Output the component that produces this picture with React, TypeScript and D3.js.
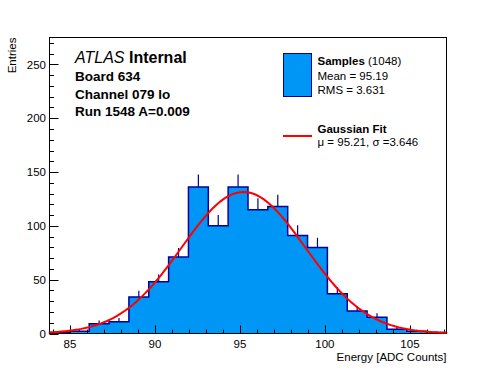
import { useEffect, useRef } from "react";
import * as d3 from "d3";

// Histogram: 20 equal bins spanning the axis range
const xRange = [83.8, 107.15];
const binCounts = [1, 2, 9, 11, 34, 48, 71, 136, 100, 136, 115, 118, 91, 80, 37, 21, 15, 4, 2, 1];

const fitConstant = 131.5;
const fitMean = 95.21;
const fitSigma = 3.646;

const xTicks = [85, 90, 95, 100, 105];
const yTicks = [0, 50, 100, 150, 200, 250];

const infoLines = ["Board 634", "Channel 079 lo", "Run 1548 A=0.009"];

const FONT = "'Liberation Sans', Arial, Helvetica, sans-serif";
const FILL = "#0096f5";
const EDGE = "#000099";

const HistChart = () => {
  const ref = useRef(null);

  useEffect(() => {
    if (!ref.current) return;
    d3.select(ref.current).selectAll("*").remove();

    const W = 496;
    const H = 372;
    const left = 49.5;
    const right = 446.5;
    const top = 37.5;
    const bottom = 333.5;

    const svg = d3
      .select(ref.current)
      .append("svg")
      .attr("width", W)
      .attr("height", H)
      .style("position", "absolute")
      .style("left", "0px")
      .style("top", "0px")
      .style("font-family", FONT);

    svg.append("rect").attr("width", W).attr("height", H).attr("fill", "white");

    const x = d3.scaleLinear().domain(xRange).range([left, right]);
    const y = d3.scaleLinear().domain([0, 275]).range([bottom, top]);

    const nb = binCounts.length;
    const bw = (xRange[1] - xRange[0]) / nb;
    const bins = binCounts.map((c, i) => ({
      x0: xRange[0] + i * bw,
      x1: xRange[0] + (i + 1) * bw,
      c,
    }));

    // step points
    const pts = [];
    bins.forEach((b) => {
      pts.push([b.x0, b.c]);
      pts.push([b.x1, b.c]);
    });

    const area = d3
      .area()
      .x((d) => x(d[0]))
      .y0(y(0))
      .y1((d) => y(d[1]));

    svg.append("path").attr("d", area(pts)).attr("fill", FILL);

    const line = d3
      .line()
      .x((d) => x(d[0]))
      .y((d) => y(d[1]));

    svg
      .append("path")
      .attr("d", line([[xRange[0], 0], ...pts, [xRange[1], 0]]))
      .attr("fill", "none")
      .attr("stroke", EDGE)
      .attr("stroke-width", 1.5);

    // error bars (upper halves visible above the fill)
    svg
      .selectAll(".err")
      .data(bins.filter((b) => b.c > 0))
      .enter()
      .append("line")
      .attr("x1", (d) => x((d.x0 + d.x1) / 2))
      .attr("x2", (d) => x((d.x0 + d.x1) / 2))
      .attr("y1", (d) => y(d.c))
      .attr("y2", (d) => y(d.c + Math.sqrt(d.c)))
      .attr("stroke", EDGE)
      .attr("stroke-width", 1.2);

    // frame
    svg
      .append("rect")
      .attr("x", left)
      .attr("y", top)
      .attr("width", right - left)
      .attr("height", bottom - top)
      .attr("fill", "none")
      .attr("stroke", "black")
      .attr("stroke-width", 1);

    // x ticks (inward)
    const xMinor = d3.range(84, 108, 1);
    svg
      .selectAll(".xt")
      .data(xMinor)
      .enter()
      .append("line")
      .attr("x1", (d) => Math.round(x(d)) + 0.5)
      .attr("x2", (d) => Math.round(x(d)) + 0.5)
      .attr("y1", bottom)
      .attr("y2", (d) => bottom - (d % 5 === 0 ? 8 : 4))
      .attr("stroke", "black");

    svg
      .selectAll(".xl")
      .data(xTicks)
      .enter()
      .append("text")
      .attr("x", (d) => x(d))
      .attr("y", 348)
      .attr("text-anchor", "middle")
      .attr("font-size", 11.5)
      .text((d) => d);

    // y ticks (inward)
    const yMinor = d3.range(0, 275, 10);
    svg
      .selectAll(".yt")
      .data(yMinor)
      .enter()
      .append("line")
      .attr("x1", left)
      .attr("x2", (d) => left + (d % 50 === 0 ? 9 : 4.5))
      .attr("y1", (d) => Math.round(y(d)) + 0.5)
      .attr("y2", (d) => Math.round(y(d)) + 0.5)
      .attr("stroke", "black");

    svg
      .selectAll(".yl")
      .data(yTicks)
      .enter()
      .append("text")
      .attr("x", 46)
      .attr("y", (d) => y(d))
      .attr("dy", "0.36em")
      .attr("text-anchor", "end")
      .attr("font-size", 11.5)
      .text((d) => d);

    // axis titles
    svg
      .append("text")
      .attr("x", right)
      .attr("y", 361)
      .attr("text-anchor", "end")
      .attr("font-size", 11.5)
      .text("Energy [ADC Counts]");

    svg
      .append("text")
      .attr("transform", `translate(16, ${top}) rotate(-90)`)
      .attr("text-anchor", "end")
      .attr("font-size", 11.5)
      .text("Entries");

    // Gaussian fit curve (ROOT-like sampling)
    const gx = d3.range(0, 101).map((i) => xRange[0] + ((xRange[1] - xRange[0]) * i) / 100);
    const gauss = (v) =>
      fitConstant * Math.exp(-0.5 * ((v - fitMean) / fitSigma) ** 2);
    svg
      .append("path")
      .attr("d", line(gx.map((v) => [v, gauss(v)])))
      .attr("fill", "none")
      .attr("stroke", "#ff0000")
      .attr("stroke-width", 2);

    // ATLAS label
    const atlas = svg
      .append("text")
      .attr("x", 75)
      .attr("y", 63)
      .attr("font-size", 16);
    atlas.append("tspan").attr("font-style", "italic").text("ATLAS");
    atlas.append("tspan").attr("font-weight", "bold").text(" Internal");

    svg
      .selectAll(".info")
      .data(infoLines)
      .enter()
      .append("text")
      .attr("x", 75)
      .attr("y", (d, i) => 81 + i * 17.7)
      .attr("font-size", 13.5)
      .attr("font-weight", "bold")
      .text((d) => d);

    // legend
    svg
      .append("rect")
      .attr("x", 283.5)
      .attr("y", 53.5)
      .attr("width", 28)
      .attr("height", 43)
      .attr("fill", FILL)
      .attr("stroke", EDGE)
      .attr("stroke-width", 1);

    const l1 = svg.append("text").attr("x", 317.5).attr("y", 65).attr("font-size", 11.5);
    l1.append("tspan").attr("font-weight", "bold").text("Samples");
    l1.append("tspan").text(" (1048)");

    svg.append("text").attr("x", 317.5).attr("y", 79.5).attr("font-size", 11.5).text("Mean = 95.19");
    svg.append("text").attr("x", 317.5).attr("y", 94).attr("font-size", 11.5).text("RMS = 3.631");

    svg
      .append("line")
      .attr("x1", 283)
      .attr("x2", 312)
      .attr("y1", 136)
      .attr("y2", 136)
      .attr("stroke", "#ff0000")
      .attr("stroke-width", 2);

    svg
      .append("text")
      .attr("x", 317.5)
      .attr("y", 133)
      .attr("font-size", 11.5)
      .attr("font-weight", "bold")
      .text("Gaussian Fit");
    svg
      .append("text")
      .attr("x", 317.5)
      .attr("y", 146)
      .attr("font-size", 11.5)
      .text("\u03bc = 95.21, \u03c3 =3.646");
  }, []);

  return <div ref={ref}></div>;
};

export default function App() {
  return <HistChart />;
}
